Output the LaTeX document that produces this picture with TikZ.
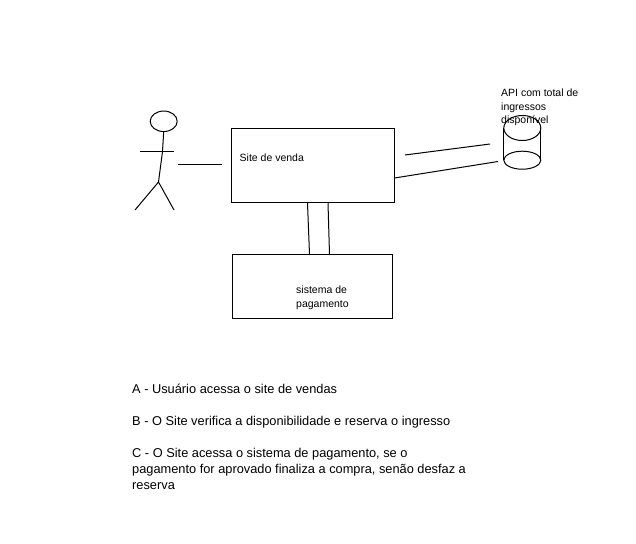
\documentclass[tikz,border=0pt]{standalone}
\usepackage{fontspec}
\usetikzlibrary{shapes.geometric}
\setmainfont{Liberation Sans}
\tikzset{
  px/.style={x=1pt,y=-1pt},
  ln/.style={draw=black,line width=1pt},
  boxn/.style={draw=black,line width=1pt,fill=white,inner sep=0pt,outer sep=0pt,rectangle},
  elln/.style={draw=black,line width=1pt,ellipse,inner sep=0pt,outer sep=0pt},
  small/.style={inner sep=0pt,anchor=base west,font=\fontsize{10.5}{12}\selectfont},
  big/.style={inner sep=0pt,anchor=base west,font=\fontsize{12.8}{14}\selectfont}
}
\begin{document}
\begin{tikzpicture}[px]
\useasboundingbox (0,0) rectangle (636,543);
% boxes
\node[boxn,minimum width=163pt,minimum height=74pt] (site) at (313,165.5) {};
\node[boxn,minimum width=160pt,minimum height=64pt] (pay) at (312.5,286.5) {};
\node[small] (sitet) at (239.5,161) {Site de venda};
\node[small] (payt1) at (296,293) {sistema de};
\node[small] (payt2) at (296,307) {pagamento};
% actor
\node[elln,minimum width=27pt,minimum height=20.5pt] (head) at (163.7,121.3) {};
\coordinate (neck) at (162.5,151.5);
\coordinate (hip) at (158.5,182);
\coordinate (armL) at (140,151.5);
\coordinate (armR) at (174,151.5);
\coordinate (legL) at (135,210);
\coordinate (legR) at (174,210);
\draw[ln] (head.south) -- (neck) -- (hip);
\draw[ln] (armL) -- (armR);
\draw[ln] (legL) -- (hip) -- (legR);
% actor to site connector
\coordinate (a1) at (178,164.5);
\coordinate (a2) at (222,164.5);
\draw[ln] (a1) -- (a2);
% cylinder
\node[elln,minimum width=37pt,minimum height=25pt] (cyltop) at (522.3,128) {};
\node[elln,minimum width=37pt,minimum height=18pt] (cylbot) at (522.3,160.2) {};
\draw[ln] (cyltop.west) -- (cylbot.west);
\draw[ln] (cyltop.east) -- (cylbot.east);
\node[small] (api1) at (501,96) {API com total de};
\node[small] (api2) at (501,110) {ingressos};
\node[small] (api3) at (501,123.5) {disponível};
% site to API connectors
\coordinate (b1) at (405,155);
\coordinate (b2) at (490,144);
\coordinate (c1) at (394.5,178);
\coordinate (c2) at (498,161.5);
\draw[ln] (b1) -- (b2);
\draw[ln] (c1) -- (c2);
% site to payment connectors
\coordinate (d1) at (307.5,203);
\coordinate (d2) at (309.5,254.5);
\coordinate (e1) at (328,203);
\coordinate (e2) at (329.5,254.5);
\draw[ln] (d1) -- (d2);
\draw[ln] (e1) -- (e2);
% legend
\node[big] (la) at (132,393) {A - Usuário acessa o site de vendas};
\node[big] (lb) at (132,425) {B - O Site verifica a disponibilidade e reserva o ingresso};
\node[big] (lc1) at (132,457) {C - O Site acessa o sistema de pagamento, se o};
\node[big] (lc2) at (132,473) {pagamento for aprovado finaliza a compra, senão desfaz a};
\node[big] (lc3) at (132,489) {reserva};
\end{tikzpicture}
\end{document}
